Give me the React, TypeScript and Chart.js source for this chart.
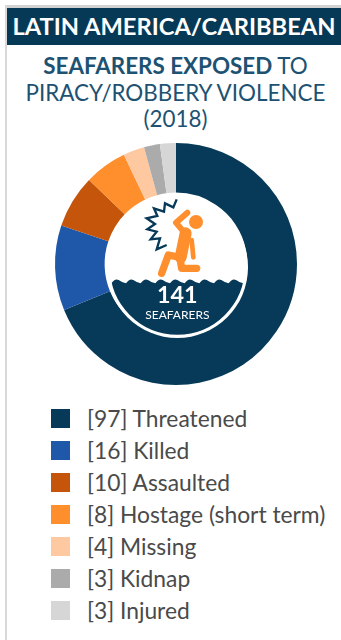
import React, { useEffect, useRef, useState } from "react";
import { Chart, registerables } from "chart.js";

Chart.register(...registerables);

const categories = ["Threatened", "Killed", "Assaulted", "Hostage (short term)", "Missing", "Kidnap", "Injured"];
const seafarers = [97, 16, 10, 8, 4, 3, 3];
const colours = ["#073A59", "#2058A9", "#C4550B", "#FE8F2C", "#FEC8A0", "#ABABAB", "#D6D6D6"];
const totalLabel = "141";
const totalUnit = "SEAFARERS";
const regionTitle = "LATIN AMERICA/CARIBBEAN";
const titleBold = "SEAFARERS EXPOSED";
const titleRest = "TO";
const titleLine2 = "PIRACY/ROBBERY VIOLENCE";
const titleLine3 = "(2018)";

const FONT = "Lato, 'Noto Sans', sans-serif";

type LegendRow = { text: string; color: string };

const burst =
  "260,88 250,112 225,100 222,125 192,115 202,138 170,145 195,162 172,178 200,185 182,208 210,205 200,238 230,225";
const waves = "M64 340 " + "q11 -16 22 -10 q11 8 22 10 ".repeat(9);

export default function App() {
  const ref = useRef<HTMLCanvasElement | null>(null);
  const [rows, setRows] = useState<LegendRow[]>([]);

  useEffect(() => {
    const chart = new Chart(ref.current!, {
      type: "doughnut",
      data: {
        labels: categories,
        datasets: [{ data: seafarers, backgroundColor: colours, borderWidth: 0 }],
      },
      options: {
        animation: false,
        responsive: false,
        cutout: "59%",
        layout: { padding: 8 },
        plugins: { legend: { display: false }, tooltip: { enabled: false } },
      },
    });
    const labels = chart.data.labels as string[];
    setRows(labels.map((l, i) => ({ text: `[${seafarers[i]}] ${l}`, color: colours[i] })));
    return () => chart.destroy();
  }, []);

  return (
    <div style={{ position: "absolute", left: 0, top: 0, width: 341, height: 640, background: "#fff", overflow: "hidden", fontFamily: FONT }}>
      <div style={{ position: "absolute", left: 5, top: 5, width: 336, height: 3, background: "#D2D2D2" }} />
      <div style={{ position: "absolute", left: 5, top: 5, width: 2, height: 635, background: "#D9D9D9" }} />
      <div style={{ position: "absolute", left: 7, top: 8, width: 334, height: 37, background: "#063955", color: "#fff", fontWeight: 700, fontSize: 23.7, lineHeight: "37px", textAlign: "center", whiteSpace: "nowrap" }}>
        {regionTitle}
      </div>
      <div style={{ position: "absolute", left: 0, top: 53, width: 351, textAlign: "center", color: "#1D5272", fontSize: 22.4, lineHeight: "26.5px", whiteSpace: "nowrap" }}>
        <div><b>{titleBold}</b> {titleRest}</div>
        <div>{titleLine2}</div>
        <div>{titleLine3}</div>
      </div>
      <canvas ref={ref} width={258} height={258} style={{ position: "absolute", left: 47, top: 135, width: 258, height: 258 }} />
      <svg width={170} height={170} viewBox="0 0 510 510" style={{ position: "absolute", left: 90, top: 170 }}>
        <defs>
          <clipPath id="disc"><circle cx={262} cy={292} r={205} /></clipPath>
        </defs>
        <circle cx={262} cy={292} r={212} fill="#fff" />
        <g clipPath="url(#disc)">
          <path d={`${waves} L470 520 L50 520 Z`} fill="#073A59" />
        </g>
        <circle cx={262} cy={292} r={205} fill="none" stroke="#fff" strokeWidth={6} />
        <polyline points={burst} fill="none" stroke="#073A59" strokeWidth={7} strokeLinejoin="miter" />
        <g stroke="#FE8F2C" strokeLinecap="round" strokeLinejoin="round" fill="none">
          <polyline points="292,128 258,158 285,190" strokeWidth={18} />
          <polyline points="287,190 272,262" strokeWidth={36} />
          <polyline points="270,262 235,255 215,310" strokeWidth={22} />
          <polyline points="270,265 275,295 320,295" strokeWidth={22} />
          <polyline points="305,210 310,262" strokeWidth={14} />
        </g>
        <circle cx={318} cy={156} r={21} fill="#FE8F2C" />
        <text x={262} y={400} textAnchor="middle" fill="#fff" fontFamily={FONT} fontWeight={700} fontSize={70}>{totalLabel}</text>
        <text x={262} y={448} textAnchor="middle" fill="#fff" fontFamily={FONT} fontSize={36}>{totalUnit}</text>
      </svg>
      {rows.map((r, i) => (
        <div key={r.text} style={{ position: "absolute", left: 0, top: 402 + i * 32, height: 32, width: 341 }}>
          <div style={{ position: "absolute", left: 51, top: 7, width: 19, height: 19, background: r.color }} />
          <div style={{ position: "absolute", left: 87, top: 0, lineHeight: "32px", fontSize: 22.8, color: "#4A4A4A", whiteSpace: "nowrap" }}>{r.text}</div>
        </div>
      ))}
    </div>
  );
}
